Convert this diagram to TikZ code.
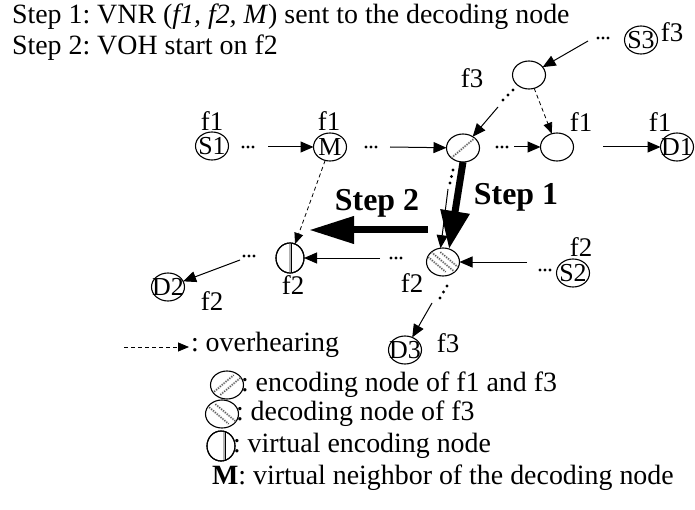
\documentclass[tikz,border=0pt]{standalone}
\usepackage{fontspec}
\setmainfont{Liberation Serif}
\usetikzlibrary{arrows.meta,shapes.geometric}
\frenchspacing
\begin{document}
\begin{tikzpicture}[x=1bp,y=-1bp,
  every node/.style={inner sep=0pt,outer sep=0pt},
  txt/.style={font=\fontsize{28}{32}\selectfont},
  lbl/.style={font=\fontsize{27}{30}\selectfont},
  steplbl/.style={font=\fontsize{32}{36}\selectfont\bfseries},
  inner/.style={font=\fontsize{26}{26}\selectfont},
  nd/.style={draw,ellipse,line width=1.1bp,minimum width=33bp,minimum height=28bp},
  arr/.style={line width=1bp,-{Triangle[length=13bp,width=11bp]}},
  ovh/.style={line width=0.8bp,dash pattern=on 4bp off 3bp,-{Triangle[length=11bp,width=9bp]}},
  big/.style={line width=7bp,-{Triangle[length=38bp,width=28bp]}},
  bigh/.style={line width=7bp,-{Triangle[length=45bp,width=26bp]}},
  hatch/.style={line width=2.2bp,gray!60,dash pattern=on 1.5bp off 1bp},
  hatchd/.style={line width=0.9bp,black!70,dash pattern=on 1bp off 1.5bp},
]
\useasboundingbox (0,0) rectangle (695,510);
\newcommand\dotrow[3]{\fill (#1) circle (1.7bp) ++(#2,#3) circle (1.7bp) ++(#2,#3) circle (1.7bp);}

% header lines
\node[txt,anchor=west] (h1) at (12,17) {Step 1: VNR (\textit{f1, f2, M}) sent to the decoding node};
\node[txt,anchor=west] (h2) at (12,48) {Step 2: VOH start on f2};

% nodes of the network
\node[nd] (S1) at (212,146) {};  \node[inner] (S1t) at (S1) {S1};
\node[nd] (M)  at (330,147) {};  \node[inner] (Mt) at (M) {M};
\node[nd] (E)  at (463,148) {};
\node[nd] (R)  at (557,147) {};
\node[nd] (D1) at (677,147) {};  \node[inner] (D1t) at (D1) {D1};
\node[nd] (U)  at (529,75) {};
\node[nd] (S3) at (641,40) {};   \node[inner] (S3t) at (S3) {S3};
\node[nd] (Dc) at (443,262) {};
\node[nd] (S2) at (573,273) {};  \node[inner] (S2t) at (S2) {S2};
\node[nd,minimum width=28bp,minimum height=30bp] (V) at (290,258) {};
\node[nd] (D2) at (168,287) {};  \node[inner] (D2t) at (D2) {D2};
\node[nd] (D3) at (405,350) {};  \node[inner] (D3t) at (D3) {D3};

% hatching of the coding nodes
\begin{scope}
  \clip (E) ellipse (16bp and 13.5bp);
  \draw[hatch] (E.south west) -- (E.north east);
  \draw[hatchd] (E.south west) -- (E.north east);
\end{scope}
\begin{scope}
  \clip (Dc) ellipse (16bp and 13.5bp);
  \foreach \o in {-9,0,9}{
    \draw[hatch] ([xshift=\o bp]Dc.north west) -- ([xshift=\o bp]Dc.south east);
    \draw[hatchd] ([xshift=\o bp]Dc.north west) -- ([xshift=\o bp]Dc.south east);}
\end{scope}
\draw[line width=2.5bp,gray!60] ([xshift=0bp]V.north) -- ([xshift=0bp]V.south);
\draw[line width=1bp] ([xshift=1.5bp]V.north) -- ([xshift=1.5bp]V.south);
\node[nd,minimum width=28bp,minimum height=30bp] (V2) at (V) {};

% flow labels
\node[lbl] (lS1) at (212,121) {f1};
\node[lbl] (lM)  at (329,121) {f1};
\node[lbl] (lR)  at (581,122) {f1};
\node[lbl] (lD1) at (660,122) {f1};
\node[lbl] (lU)  at (472,78)  {f3};
\node[lbl] (lS3) at (672,32)  {f3};
\node[lbl] (lDc) at (412,283) {f2};
\node[lbl] (lS2) at (581,247) {f2};
\node[lbl] (lV)  at (293,285) {f2};
\node[lbl] (lD2) at (212,301) {f2};
\node[lbl] (lD3) at (448,343) {f3};

% dotted gaps
\dotrow{243,147}{5}{0}
\dotrow{366,147}{5}{0}
\dotrow{497,147}{5}{0}
\dotrow{598,38}{5}{0}
\dotrow{513,90}{-5}{5}
\dotrow{453,170}{-1.5}{6.5}
\dotrow{540,270}{5}{0}
\dotrow{391,258}{5}{0}
\dotrow{244,256}{5}{0}
\dotrow{447,286}{-3.5}{6}

% connectors
\coordinate (aS1) at (268,147);
\coordinate (aM) at (390,147);
\coordinate (aE) at (514,147);
\coordinate (aR) at (603,147);
\coordinate (aS3) at (588,41);
\coordinate (aU) at (498,107);
\coordinate (aEd) at (448,189);
\coordinate (aS2) at (527,262);
\coordinate (aDc) at (380,258);
\coordinate (aV) at (240,260);
\coordinate (aDd) at (432,303);
\draw[arr] (aS1) -- (M);
\draw[arr] (aM) -- (E);
\draw[arr] (aE) -- (R);
\draw[arr] (aR) -- (D1);
\draw[arr] (aS3) -- (U);
\draw[arr] (aU) -- (E);
\draw[arr] (aEd) -- (Dc.100);
\draw[arr] (aS2) -- (Dc);
\draw[arr] (aDc) -- (V);
\draw[arr] (aV) -- (D2);
\draw[arr] (aDd) -- (D3);
\draw[ovh] (U) -- (R);
\draw[ovh] (M) -- (V);

% step arrows
\draw[big] (E.south) -- (Dc.65);
\coordinate (s2a) at (428,230);
\coordinate (s2b) at (309,230);
\draw[bigh] (s2a) -- (s2b);
\node[steplbl] (st1) at (516,197) {Step 1};
\node[steplbl] (st2) at (377,203) {Step 2};

% legend
\coordinate (lg1) at (124,347);
\coordinate (lg2) at (189,347);
\draw[ovh] (lg1) -- (lg2);
\node[txt,anchor=west] (lgt1) at (191,345) {: overhearing};
\node[nd] (LE) at (227,385) {};
\begin{scope}
  \clip (LE) ellipse (16bp and 13.5bp);
  \foreach \o in {-5,5}{
    \draw[hatch] ([xshift=\o bp]LE.south west) -- ([xshift=\o bp]LE.north east);
    \draw[hatchd] ([xshift=\o bp]LE.south west) -- ([xshift=\o bp]LE.north east);}
\end{scope}
\node[txt,anchor=west] (lgt2) at (241,385) {: encoding node of f1 and f3};
\node[nd] (LD) at (222,414) {};
\begin{scope}
  \clip (LD) ellipse (16bp and 13.5bp);
  \foreach \o in {-5,5}{
    \draw[hatch] ([xshift=\o bp]LD.north west) -- ([xshift=\o bp]LD.south east);
    \draw[hatchd] ([xshift=\o bp]LD.north west) -- ([xshift=\o bp]LD.south east);}
\end{scope}
\node[txt,anchor=west] (lgt3) at (236,414) {: decoding node of f3};
\node[nd,minimum width=28bp,minimum height=30bp] (LV) at (221,446) {};
\draw[line width=2.5bp,gray!60] ([xshift=3bp]LV.north) -- ([xshift=3bp]LV.south);
\draw[line width=1bp] ([xshift=4.5bp]LV.north) -- ([xshift=4.5bp]LV.south);
\node[nd,minimum width=28bp,minimum height=30bp] (LV2) at (LV) {};
\node[txt,anchor=west] (lgt4) at (233,446) {: virtual encoding node};
\node[txt,anchor=west] (lgt5) at (212,478) {\textbf{M}: virtual neighbor of the decoding node};
\end{tikzpicture}
\end{document}
